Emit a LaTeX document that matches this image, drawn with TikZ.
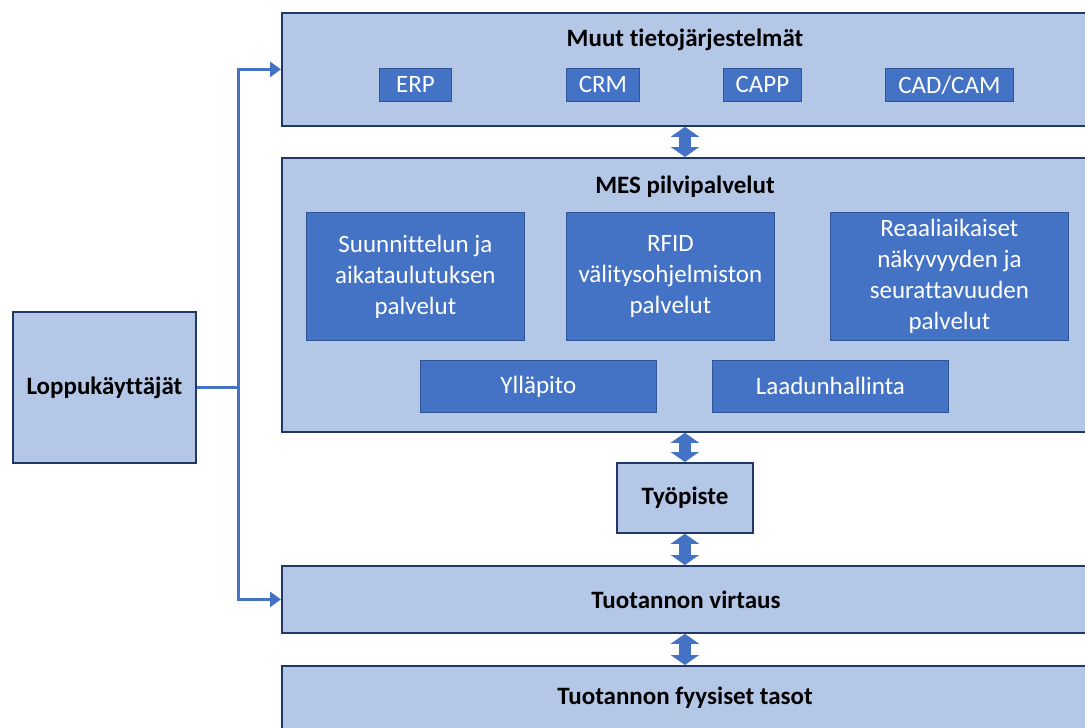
\documentclass[tikz,border=0pt]{standalone}
\usepackage{fontspec}
\setmainfont{Carlito}[Ligatures=CommonOff]
\usetikzlibrary{arrows.meta,calc}
\definecolor{panel}{HTML}{B4C7E7}
\definecolor{panelline}{HTML}{1F3864}
\definecolor{block}{HTML}{4472C4}
\definecolor{blockline}{HTML}{2F5597}
\tikzset{
  x=1pt,y=-1pt,
  panelbox/.style={draw=panelline,line width=1.8pt,fill=panel,anchor=north west,inner sep=0pt},
  title/.style={font=\bfseries\fontsize{25}{30}\selectfont,text=black},
  blockbox/.style={draw=blockline,line width=0.8pt,fill=block,text=white,anchor=north west,
    inner sep=0pt,align=center,font=\fontsize{25}{31}\selectfont},
  link/.style={draw=block,line width=3pt,-{Triangle[length=11pt,width=15pt]}},
  dblarrow/.style={draw=block,line width=12pt,
    {Triangle[length=10pt,width=28pt]}-{Triangle[length=10pt,width=28pt]}}
}
\begin{document}
\begin{tikzpicture}
\useasboundingbox (0,0) rectangle (1085,728);

% main layers
\node[panelbox,minimum width=808pt,minimum height=113pt] (muut) at (281,12) {};
\node[panelbox,minimum width=808pt,minimum height=274pt] (mes) at (281,157) {};
\node[panelbox,minimum width=136pt,minimum height=70pt] (tyo) at (616,462) {};
\node[panelbox,minimum width=808pt,minimum height=67pt] (virt) at (281,565) {};
\node[panelbox,minimum width=808pt,minimum height=80pt] (fyys) at (281,665) {};
\node[panelbox,minimum width=183pt,minimum height=151pt] (loppu) at (12,311) {};

% titles
\node[title] (tmuut) at (685,40) {Muut tietojärjestelmät};
\node[title] (tmes) at (685,187) {MES pilvipalvelut};
\node[title] (ttyo) at (tyo.center) {Työpiste};
\node[title] (tvirt) at (virt.center) {Tuotannon virtaus};
\node[title] (tfyys) at (685,698) {Tuotannon fyysiset tasot};
\node[title] (tloppu) at (loppu.center) {Loppukäyttäjät};

% other information systems
\node[blockbox,minimum width=72pt,minimum height=33pt] (erp) at (379,68) {ERP};
\node[blockbox,minimum width=73pt,minimum height=33pt] (crm) at (566,68) {CRM};
\node[blockbox,minimum width=78pt,minimum height=33pt] (capp) at (723,68) {CAPP};
\node[blockbox,minimum width=128pt,minimum height=33pt] (cad) at (885,68) {CAD/CAM};

% MES cloud services
\node[blockbox,minimum width=218pt,minimum height=128pt] (suun) at (306,212)
  {Suunnittelun ja\\aikataulutuksen\\palvelut};
\node[blockbox,minimum width=208pt,minimum height=128pt] (rfid) at (566,212)
  {RFID\\välitysohjelmiston\\palvelut};
\node[blockbox,minimum width=238pt,minimum height=128pt] (reaa) at (830,212)
  {Reaaliaikaiset\\näkyvyyden ja\\seurattavuuden\\palvelut};
\node[blockbox,minimum width=236pt,minimum height=52pt] (yll) at (420,360) {Ylläpito};
\node[blockbox,minimum width=236pt,minimum height=52pt] (laad) at (712,360) {Laadunhallinta};

% vertical data exchange
\draw[dblarrow] (muut.south -| tmuut) -- (mes.north -| tmuut);
\draw[dblarrow] (mes.south -| tyo) -- (tyo.north);
\draw[dblarrow] (tyo.south) -- (virt.north -| tyo);
\draw[dblarrow] (virt.south -| tyo) -- (fyys.north -| tyo);

% end users
\coordinate (split) at ($(loppu.east)+(42,0)$);
\draw[draw=block,line width=3pt] (loppu.east) -- (split);
\draw[link] (split) |- (muut.west);
\draw[link] (split) |- (virt.west);
\end{tikzpicture}
\end{document}
